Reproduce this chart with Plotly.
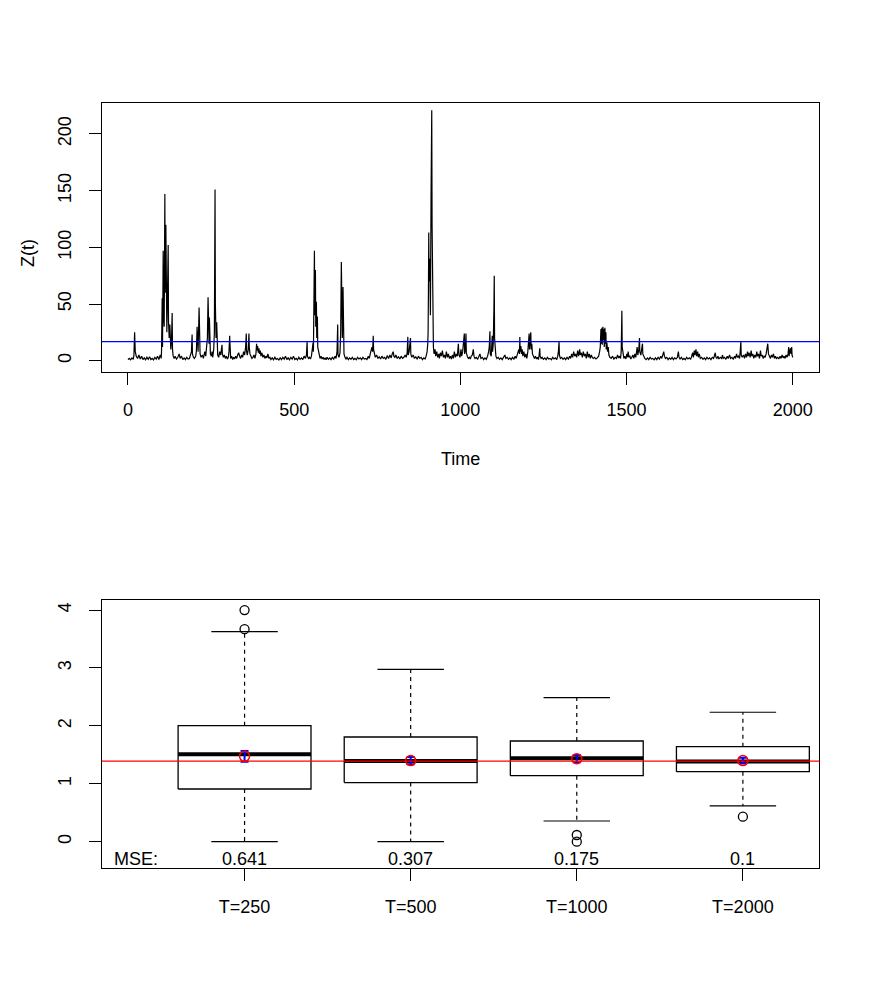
import plotly.graph_objects as go

# ---- top panel: simulated series Z(t), read off the picture as knots ----
t_obs = [
    0, 4, 8, 12, 16, 18, 20, 22, 25, 29, 33, 37, 41, 45, 49, 53, 57, 61, 65, 69, 73, 77, 81, 85, 89, 93, 97, 100,
    101, 103, 104, 106, 107, 109, 111, 112, 114, 115, 117, 119, 121, 122, 124, 126, 127, 129, 131, 133, 134, 136, 139,
    142, 146, 150, 154, 157, 161, 165, 169, 173, 177, 181, 185, 189,
    191, 193, 194, 197, 200, 204, 206, 208, 209, 211, 214, 215, 217, 220, 224, 227, 231, 234, 237, 239, 241, 242, 244,
    245, 246, 248, 251, 253, 255, 258, 260, 262, 263, 265, 267, 268, 270,
    273, 276, 279, 281, 283, 284, 287, 290, 293, 296, 299, 302, 304, 306, 307, 309, 312, 315, 318, 321, 324, 327, 330,
    333, 336, 339, 342, 345, 348, 351, 354, 356, 357, 359, 362, 364, 365, 367, 370, 373, 376, 379, 382, 385, 387, 388,
    390, 392, 394, 396, 398, 400, 403, 406, 409, 412, 415, 418, 421, 424, 427, 430,
    434, 438, 442, 446, 450, 454, 458, 462, 466, 470, 474, 478, 482, 486, 490, 494, 498, 502, 506, 510, 514, 518, 522,
    526, 530, 534, 537, 539, 540, 543, 546, 549, 552, 555,
    557, 558, 560, 561, 562, 564, 565, 567, 568, 570, 571, 573, 575, 578, 581, 584, 587, 590, 593, 596, 599,
    603, 607, 611, 615, 619, 623, 626, 629, 631, 632, 635, 638, 640, 642, 643, 645, 647, 648, 650, 653, 656, 659,
    663, 667, 671, 675, 679, 683, 687, 691, 695, 699, 703, 707, 711, 715, 719, 723, 726, 729, 732, 734, 736, 738, 739,
    741, 744,
    748, 752, 756, 760, 764, 768, 772, 776, 780, 784, 788, 792, 795, 798, 800, 803, 806, 810, 814, 818, 822, 826, 830,
    834, 837, 840, 842, 843, 846, 848, 850, 851, 854,
    858, 862, 866, 870, 874, 878, 882, 886, 890, 894, 897, 900, 902, 903, 904, 905, 906, 908, 910, 912, 914, 915, 916,
    918, 919, 921,
    924, 926, 929, 932, 935, 937, 940, 943, 946, 949, 952, 955, 958, 961, 964, 967, 970, 973, 976, 979, 982, 985, 988,
    991, 993, 994, 996, 999,
    1002, 1004, 1007, 1010, 1012, 1013, 1015, 1017, 1018, 1021, 1024, 1027, 1030, 1033, 1036, 1039, 1041, 1044, 1048,
    1052, 1056, 1059, 1062, 1066, 1070, 1074, 1078, 1082, 1085, 1087, 1089, 1090, 1093, 1096, 1097, 1099, 1101, 1102,
    1103, 1105, 1107, 1110,
    1114, 1118, 1122, 1126, 1130, 1134, 1137, 1141, 1145, 1149, 1153, 1157, 1161, 1165, 1168, 1171, 1174, 1176, 1178,
    1179, 1180, 1182, 1184, 1186, 1188, 1191, 1194, 1197, 1200, 1203, 1205, 1207, 1208, 1210, 1212, 1213, 1215, 1217,
    1220, 1223, 1226, 1229, 1232, 1235, 1237, 1239, 1240,
    1243, 1246, 1250, 1254, 1258, 1262, 1266, 1270, 1274, 1278, 1282, 1286, 1290, 1293, 1295, 1297, 1298, 1301, 1305,
    1309, 1313, 1317, 1321, 1325, 1329, 1332, 1335, 1338, 1341, 1344, 1347, 1350, 1353, 1356, 1359, 1361, 1364, 1367,
    1370, 1373, 1376, 1379, 1382, 1385, 1388, 1391, 1394, 1397, 1400, 1404, 1408, 1412, 1416, 1419,
    1421, 1423, 1424, 1426, 1427, 1429, 1430, 1432, 1433, 1435, 1436, 1438, 1439, 1441, 1443, 1445, 1447, 1450, 1454,
    1458, 1462, 1466, 1470, 1473, 1476, 1479, 1482, 1484, 1485, 1486, 1487, 1489, 1492,
    1495, 1498, 1501, 1503, 1505, 1507, 1510, 1513, 1516, 1519, 1522, 1525, 1528, 1530, 1532, 1534, 1537, 1539, 1540,
    1543, 1546, 1548, 1549, 1552, 1555,
    1559, 1563, 1567, 1571, 1575, 1579, 1583, 1587, 1591, 1595, 1599, 1603, 1606, 1609, 1612, 1614, 1617, 1621, 1625,
    1629, 1633, 1637, 1641, 1645, 1649, 1653, 1656, 1658, 1661, 1665, 1669, 1673, 1677, 1681, 1685, 1689, 1693, 1696,
    1699,
    1701, 1704, 1706, 1709, 1711, 1714, 1716, 1719, 1722, 1726, 1730, 1734, 1738, 1742, 1746, 1750, 1754, 1758, 1762,
    1765, 1767, 1769, 1772, 1775, 1778, 1782, 1786, 1789, 1791, 1795, 1799, 1803, 1806, 1810, 1813, 1817, 1821, 1825,
    1828, 1831, 1834, 1837, 1840, 1842, 1844, 1845, 1848,
    1852, 1855, 1858, 1861, 1864, 1866, 1869, 1872, 1875, 1877, 1880, 1883, 1886, 1889, 1892, 1894, 1897, 1900, 1903,
    1905, 1908, 1911, 1914, 1917, 1920, 1923, 1925, 1927, 1930, 1933, 1936, 1939, 1942, 1945, 1948, 1951, 1955, 1958,
    1962, 1965, 1968, 1971, 1974, 1977, 1980, 1983, 1986, 1988, 1989, 1991, 1993, 1995, 1997, 1998, 2000,
]
z_obs = [
    1, 2, 0.8, 2.5, 1.2, 5, 25, 8, 4, 2, 5, 1.5, 4, 1, 2.5, 0.8, 3, 1.2, 3.5, 1, 2, 0.7, 3, 1.5, 4, 1, 5, 2,
    8, 55, 12, 97, 40, 30, 147, 60, 120, 45, 25, 60, 102, 35, 20, 32, 15, 10, 18, 42, 10, 4, 2,
    4, 1.5, 3, 6, 2, 4, 1, 2.5, 1, 3, 1.5, 2, 5,
    8, 23, 6, 3, 2, 4, 9, 30, 12, 8, 47, 15, 6, 3, 5, 2, 8, 4, 12, 20, 56, 30, 15,
    38, 12, 6, 4, 8, 3, 10, 25, 151, 50, 20, 34, 10, 5,
    3, 8, 5, 9, 14, 6, 3, 5, 2, 4, 1.5, 3, 8, 22, 6, 2, 4, 1, 3, 1.5, 4, 2, 5,
    7, 4, 2, 5, 3, 8, 5, 12, 24, 8, 5, 10, 24, 12, 6, 4, 2, 3, 5, 2, 6, 15, 9,
    13, 7, 11, 6, 9, 4, 7, 3, 5, 2, 4, 2.5, 6, 2, 3, 1,
    2.5, 0.8, 3, 1.2, 2, 0.6, 2.5, 1, 3, 1.5, 4, 1, 2.5, 0.8, 3, 1.5, 4, 1, 2, 0.7, 3, 1.2, 2.5,
    1, 4, 2, 5, 17, 4, 2, 3, 1.5, 4, 10,
    16, 8, 60, 97, 40, 80, 30, 52, 20, 39, 12, 8, 5, 2, 4, 1.5, 3, 1, 2.5, 0.8, 3,
    1.2, 2.5, 1, 3, 1.5, 4, 2, 8, 32, 5, 3, 7, 25, 87, 30, 20, 65, 15, 6, 3, 1.5, 3,
    1, 2.5, 1.2, 3, 1, 2, 0.8, 3, 1.5, 2.5, 1, 3, 1.5, 2, 1, 4, 2, 6, 9, 12, 8, 22, 10,
    6, 3,
    5, 2, 3.5, 1.5, 4, 2, 3, 1.2, 4.5, 2, 5, 2.5, 6, 8, 4, 3, 5, 2, 3.5, 1.5, 4, 2, 3,
    5, 3, 7, 21, 5, 8, 12, 20, 6, 3,
    5, 2, 3.5, 1.2, 4, 2, 3, 1, 2.5, 1.5, 4, 8, 15, 24, 60, 113, 70, 90, 40, 150, 221, 120, 60,
    25, 12, 6,
    10, 4, 8, 3, 6, 2, 7, 4, 9, 3, 5, 2, 8, 3, 6, 2, 4, 1.5, 5, 2, 8, 3, 6,
    4, 10, 15, 5, 3,
    10, 4, 8, 15, 24, 6, 10, 24, 7, 4, 2, 3, 1.5, 4, 5, 10, 4, 2, 3,
    1.2, 4, 6, 2, 3, 1, 2.5, 1.2, 4, 8, 12, 26, 6, 4, 22, 8, 15, 45, 75,
    20, 8, 4, 2,
    3, 1.2, 2.5, 1, 3, 5, 2, 3, 1.2, 2.5, 1, 3, 1.5, 4, 2, 5, 8, 10, 6,
    21, 8, 13, 6, 10, 4, 8, 3, 6, 2, 8, 15, 24, 10, 18, 25, 10, 15, 6,
    3, 2, 4, 1.5, 3, 1, 5, 11, 4,
    2, 3, 1.2, 2.5, 1, 3, 1.5, 2, 0.8, 3, 1.5, 2.5, 1, 4, 8, 17, 5, 2, 3,
    1.2, 2.5, 1, 3, 1.5, 4, 2, 6, 3, 8, 4, 6, 3, 9, 4, 10, 5, 7, 3,
    8, 4, 6, 2, 8, 3, 6, 2, 5, 3, 2, 3, 1.5, 2.5, 4, 8,
    12, 28, 15, 29, 14, 30, 18, 28, 12, 29, 15, 25, 10, 16, 8, 12, 5, 3, 2,
    4, 1.5, 3, 2, 5, 2.5, 4, 2, 8, 20, 44, 12, 5, 2,
    4, 1.5, 6, 3, 8, 3, 4, 1.5, 3, 5, 2, 6, 3, 8, 12, 5, 10, 20, 8,
    5, 10, 15, 6, 3, 2,
    1, 2.5, 1, 3, 1.5, 2, 0.8, 2.5, 1, 3, 1.5, 4, 2, 5, 8, 4, 2, 3, 1,
    2.5, 1.2, 3, 1, 2.5, 1.5, 3, 8, 3, 1.5, 3, 1, 2, 0.8, 3, 1.5, 2.5, 1.2, 4,
    7,
    3, 9, 5, 10, 4, 8, 3, 6, 2, 3, 1.2, 2.5, 1, 3, 1.5, 2.5, 1, 3, 2,
    5, 7, 3, 2, 4, 1.5, 3, 2, 5, 2, 3, 1.2, 4, 2, 5, 2, 3, 1.5, 4,
    2, 6, 3, 4, 2, 8, 17, 5, 3,
    5, 2, 6, 3, 8, 4, 7, 3, 9, 4, 6, 2, 5, 3, 8, 4, 6, 2, 9,
    4, 5, 2, 4, 3, 6, 10, 15, 6, 4, 2, 5, 3, 6, 2, 4, 2, 3, 1.5,
    4, 2, 5, 2.5, 4, 2, 5, 3, 6, 12, 4, 8, 11, 6, 12, 5, 3,
]
z_threshold = 16.8

# ---- bottom panel: boxplot summaries per sample length ----
groups = ["T=250", "T=500", "T=1000", "T=2000"]
lower_whisker = [0.0, 0.0, 0.357, 0.617]
q1 = [0.91, 1.02, 1.14, 1.209]
median = [1.51, 1.394, 1.44, 1.385]
q3 = [2.003, 1.808, 1.739, 1.641]
upper_whisker = [3.627, 2.977, 2.487, 2.235]
outliers = [[4.0, 3.67], [], [0.115, 0.0], [0.432]]
means = [1.474, 1.40, 1.434, 1.40]
mean_err = [0.092, 0.063, 0.063, 0.048]
mse = ["0.641", "0.307", "0.175", "0.1"]
true_value = 1.392

FONT = "Liberation Sans, Arial, sans-serif"
FS = 18
# the page body has an 8px margin, so the figure is drawn 8px smaller and positions are shifted
OFF = 8
W, H = 872 - OFF, 996 - OFF


def fx(px):
    return (px - OFF) / W


def fy(px):
    return 1 - (px - OFF) / H


fig = go.Figure()

fig.add_trace(go.Scatter(x=t_obs, y=z_obs, mode="lines", line=dict(color="black", width=1.2),
                         xaxis="x", yaxis="y", showlegend=False, hoverinfo="skip"))
fig.add_shape(type="line", xref="x domain", yref="y", x0=0, x1=1, y0=z_threshold, y1=z_threshold,
              line=dict(color="blue", width=1.3))

pos = [i + 1 for i in range(len(groups))]
half = 0.4
bx, by, mx, my, wx, wy, cx, cy, ox, oy = [], [], [], [], [], [], [], [], [], []
for p, lo, a, m, b, hi, outs in zip(pos, lower_whisker, q1, median, q3, upper_whisker, outliers):
    bx += [p - half, p + half, p + half, p - half, p - half, None]
    by += [a, a, b, b, a, None]
    mx += [p - half, p + half, None]
    my += [m, m, None]
    wx += [p, p, None, p, p, None]
    wy += [b, hi, None, a, lo, None]
    cx += [p - half / 2, p + half / 2, None, p - half / 2, p + half / 2, None]
    cy += [hi, hi, None, lo, lo, None]
    ox += [p] * len(outs)
    oy += outs

common = dict(xaxis="x2", yaxis="y2", showlegend=False, hoverinfo="skip")
fig.add_trace(go.Scatter(x=wx, y=wy, mode="lines", line=dict(color="black", width=1.2, dash="4px,4px"), **common))
fig.add_trace(go.Scatter(x=cx, y=cy, mode="lines", line=dict(color="black", width=1.2), **common))
fig.add_trace(go.Scatter(x=bx, y=by, mode="lines", line=dict(color="black", width=1.3), **common))
fig.add_trace(go.Scatter(x=mx, y=my, mode="lines", line=dict(color="black", width=4), **common))
fig.add_trace(go.Scatter(x=ox, y=oy, mode="markers",
                         marker=dict(symbol="circle-open", size=9, color="black", line=dict(width=1.3)), **common))
fig.add_shape(type="line", xref="x2 domain", yref="y2", x0=0, x1=1, y0=true_value, y1=true_value,
              line=dict(color="red", width=1.3))
fig.add_trace(go.Scatter(x=pos, y=means, mode="markers",
                         error_y=dict(type="data", array=mean_err, color="blue", thickness=2, width=4),
                         marker=dict(symbol="circle-open", size=10, color="red", line=dict(width=1.5)), **common))

for p, s in zip(pos, mse):
    fig.add_annotation(x=p, y=-0.3, xref="x2", yref="y2", text=s, showarrow=False,
                       font=dict(size=FS, color="black", family=FONT), yanchor="middle")
fig.add_annotation(x=0.2, y=-0.3, xref="x2", yref="y2", text="MSE:", showarrow=False, xanchor="left",
                   font=dict(size=FS, color="black", family=FONT), yanchor="middle")

# axis titles, placed like R's mtext lines
fig.add_annotation(x=fx(460.5), y=fy(459), xref="paper", yref="paper", text="Time", showarrow=False,
                   font=dict(size=FS, color="black", family=FONT))
fig.add_annotation(x=fx(16), y=fy(237), xref="paper", yref="paper", text="Z(t)", showarrow=False,
                   textangle=-90, font=dict(size=FS, color="black", family=FONT))

ax = dict(showline=True, mirror=True, linecolor="black", linewidth=1.2, ticks="outside", ticklen=12,
          tickcolor="black", tickwidth=1.2, showgrid=False, zeroline=False,
          tickfont=dict(size=FS, color="black", family=FONT))
xdom = [fx(101.7), fx(819.3)]
fig.update_layout(
    width=W, height=H, margin=dict(l=0, r=0, t=0, b=0),
    paper_bgcolor="white", plot_bgcolor="white",
    xaxis=dict(ax, domain=xdom, anchor="y", range=[-79, 2080], tickvals=[0, 500, 1000, 1500, 2000],
               ticklabelstandoff=10),
    yaxis=dict(ax, domain=[fy(371.7), fy(102.7)], anchor="x", range=[-9.7, 227.6],
               tickvals=[0, 50, 100, 150, 200], tickangle=-90, ticklabelstandoff=10),
    xaxis2=dict(ax, domain=xdom, anchor="y2", range=[0.14, 4.46], tickvals=pos, ticktext=groups,
                ticklabelstandoff=10),
    yaxis2=dict(ax, domain=[fy(868.3), fy(600)], anchor="x2", range=[-0.46, 4.174],
                tickvals=[0, 1, 2, 3, 4], tickangle=-90, ticklabelstandoff=10),
)

fig.write_html("out.html")
